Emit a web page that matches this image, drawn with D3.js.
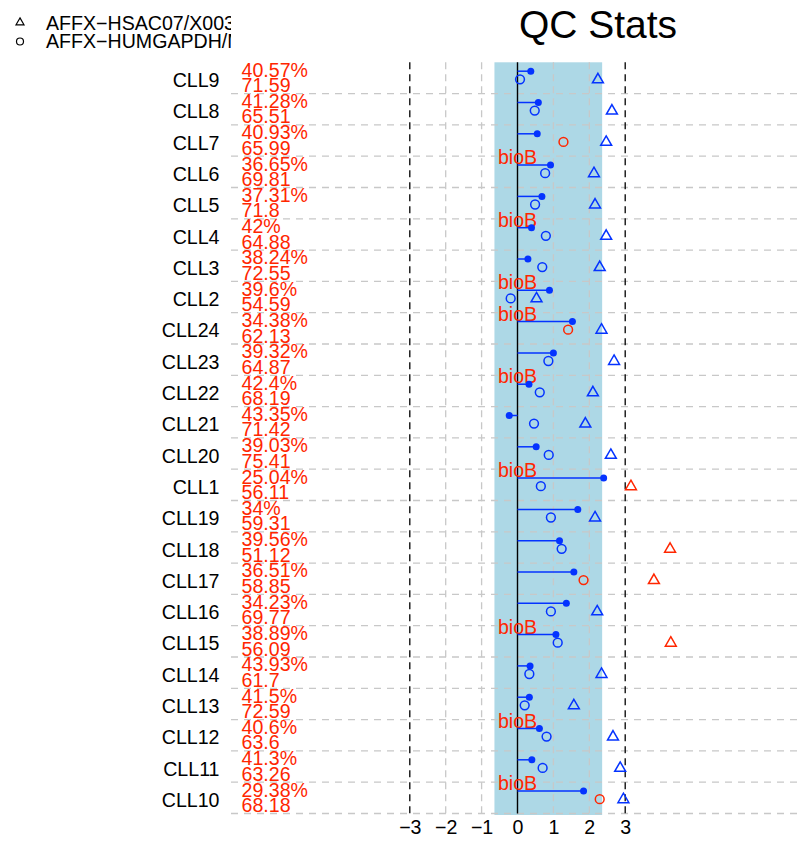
<!DOCTYPE html>
<html>
<head>
<meta charset="utf-8">
<script src="https://cdn.jsdelivr.net/npm/d3@7"></script>
<style>
  body { margin: 0; background: #fff; }
  svg { display: block; }
  text { font-family: "Liberation Sans", Arial, Helvetica, sans-serif; }
</style>
</head>
<body>
<svg id="chart" width="801" height="842"></svg>
<script>
// Arrays, listed top row first
const arrays = ["CLL9", "CLL8", "CLL7", "CLL6", "CLL5", "CLL4", "CLL3", "CLL2",
  "CLL24", "CLL23", "CLL22", "CLL21", "CLL20", "CLL1", "CLL19", "CLL18",
  "CLL17", "CLL16", "CLL15", "CLL14", "CLL13", "CLL12", "CLL11", "CLL10"];

// Percent present calls
const percentPresent = [40.57, 41.28, 40.93, 36.65, 37.31, 42, 38.24, 39.6,
  34.38, 39.32, 42.4, 43.35, 39.03, 25.04, 34, 39.56,
  36.51, 34.23, 38.89, 43.93, 41.5, 40.6, 41.3, 29.38];

// Average background
const background = [71.59, 65.51, 65.99, 69.81, 71.8, 64.88, 72.55, 54.59,
  62.13, 64.87, 68.19, 71.42, 75.41, 56.11, 59.31, 51.12,
  58.85, 69.77, 56.09, 61.7, 72.59, 63.6, 63.26, 68.18];

// log2 scale factors
const scaleFactor = [0.37, 0.58, 0.55, 0.92, 0.68, 0.39, 0.29, 0.89,
  1.53, 1.00, 0.32, -0.23, 0.52, 2.40, 1.68, 1.17,
  1.57, 1.36, 1.07, 0.35, 0.33, 0.61, 0.40, 1.84];

// GAPDH 3'/5' ratios (circles)
const gapdhRatio = [0.07, 0.48, 1.28, 0.77, 0.49, 0.79, 0.69, -0.19,
  1.41, 0.86, 0.62, 0.46, 0.87, 0.65, 0.93, 1.23,
  1.84, 0.93, 1.12, 0.33, 0.20, 0.81, 0.70, 2.29];

// beta-actin 3'/5' ratios (triangles)
const actinRatio = [2.24, 2.63, 2.47, 2.13, 2.16, 2.47, 2.29, 0.53,
  2.34, 2.69, 2.10, 1.89, 2.60, 3.16, 2.16, 4.25,
  3.80, 2.22, 4.27, 2.34, 1.57, 2.66, 2.86, 2.95];

// bioB spike called present?
const bioBPresent = [true, true, true, false, true, false, true, false,
  false, true, false, true, true, false, true, true,
  true, true, false, true, true, false, true, false];

const legendLabels = ["AFFX\u2212HSAC07/X00351", "AFFX\u2212HUMGAPDH/M33197"];
const xTicks = [-3, -2, -1, 0, 1, 2, 3];

// thresholds
const sfThresh = 3.0, gdhThresh = 1.25, baThresh = 3.0;

const RED = "#ff2600", BLUE = "#0433ff", OKREGION = "#add8e6", GREY = "#c8c8c8";
const FS = 19.6;

const svg = d3.select("#chart");
const x = d3.scaleLinear().domain([-3, 3]).range([409.8, 625.2]);
const y = d3.scaleBand().domain(arrays).range([62.3, 813.5]);
const bw = y.bandwidth();
const yTop = y.range()[0], yBottom = y.range()[1];

// acceptable scale-factor region around the mean
const meanSf = d3.mean(scaleFactor);
const sfLo = meanSf - sfThresh / 2, sfHi = meanSf + sfThresh / 2;
svg.append("rect")
  .attr("x", x(sfLo)).attr("width", x(sfHi) - x(sfLo))
  .attr("y", yTop).attr("height", yBottom - yTop + 1.5)
  .attr("fill", OKREGION);

// row separators
svg.append("g").selectAll("line").data(arrays).join("line")
  .attr("x1", 231).attr("x2", 801)
  .attr("y1", d => y(d) + bw).attr("y2", d => y(d) + bw)
  .attr("stroke", GREY).attr("stroke-width", 1.3)
  .attr("stroke-dasharray", "7,6");

// fold-change guides
const guides = [-3, -2, -1, 1, 2, 3];
svg.append("g").selectAll("line").data(guides).join("line")
  .attr("x1", d => x(d)).attr("x2", d => x(d))
  .attr("y1", yTop).attr("y2", yBottom + 2)
  .attr("stroke", d => Math.abs(d) === 3 ? "#000" : GREY)
  .attr("stroke-width", 1.3)
  .attr("stroke-dasharray", "7,5");

svg.append("line")
  .attr("x1", x(0)).attr("x2", x(0))
  .attr("y1", yTop).attr("y2", yBottom)
  .attr("stroke", "#000").attr("stroke-width", 1.4);

// array names
svg.append("g").selectAll("text").data(arrays).join("text")
  .attr("x", 219.5).attr("y", d => y(d) + 24.7)
  .attr("text-anchor", "end").attr("font-size", FS).attr("fill", "#000")
  .text(d => d);

// % present and background
const info = svg.append("g").attr("fill", RED).attr("font-size", FS);
info.selectAll("text.pp").data(arrays).join("text").attr("class", "pp")
  .attr("x", 241.5).attr("y", d => y(d) + 14.3)
  .text((d, i) => `${percentPresent[i]}%`);
info.selectAll("text.bg").data(arrays).join("text").attr("class", "bg")
  .attr("x", 241.5).attr("y", d => y(d) + 29.8)
  .text((d, i) => `${background[i]}`);

// bioB warnings
svg.append("g").selectAll("text").data(arrays.filter((d, i) => !bioBPresent[i])).join("text")
  .attr("x", x(0)).attr("y", d => y(d) + 7.9)
  .attr("text-anchor", "middle").attr("font-size", FS).attr("fill", RED)
  .text("bioB");

const sfSpread = d3.max(scaleFactor) - d3.min(scaleFactor);
const sfColor = sfSpread > sfThresh ? RED : BLUE;

// scale factor stems and dots
const rows = arrays.map((a, i) => ({ a, i }));
svg.append("g").selectAll("line").data(rows).join("line")
  .attr("x1", x(0)).attr("x2", d => x(scaleFactor[d.i]))
  .attr("y1", d => y(d.a) + 8.9).attr("y2", d => y(d.a) + 8.9)
  .attr("stroke", sfColor).attr("stroke-width", 1.5);
svg.append("g").selectAll("circle").data(rows).join("circle")
  .attr("cx", d => x(scaleFactor[d.i])).attr("cy", d => y(d.a) + 8.9)
  .attr("r", 3.5).attr("fill", sfColor);

// GAPDH circles
svg.append("g").selectAll("circle").data(rows).join("circle")
  .attr("cx", d => x(gapdhRatio[d.i])).attr("cy", d => y(d.a) + 17)
  .attr("r", 4.4).attr("fill", "none").attr("stroke-width", 1.5)
  .attr("stroke", d => gapdhRatio[d.i] > gdhThresh ? RED : BLUE);

// actin triangles
const tri = (r) => {
  const h = r * Math.sqrt(3) / 2;
  return `M0,${-r}L${h},${r / 2}L${-h},${r / 2}Z`;
};
svg.append("g").selectAll("path").data(rows).join("path")
  .attr("transform", d => `translate(${x(actinRatio[d.i])},${y(d.a) + 17.3})`)
  .attr("d", tri(6.3)).attr("fill", "none").attr("stroke-width", 1.5)
  .attr("stroke-linejoin", "miter")
  .attr("stroke", d => actinRatio[d.i] > baThresh ? RED : BLUE);

// x axis labels
const axis = svg.append("g").attr("transform", `translate(0,${yBottom + 3.2})`)
  .call(d3.axisBottom(x).tickValues(xTicks).tickSize(0).tickPadding(3)
    .tickFormat(d3.format("d")));
axis.select(".domain").remove();
axis.selectAll("text").attr("font-size", FS).attr("fill", "#000")
  .attr("font-family", "\"Liberation Sans\", Arial, sans-serif");

// title
svg.append("text").attr("x", 598).attr("y", 37.5)
  .attr("text-anchor", "middle").attr("font-size", 39).attr("fill", "#000")
  .text("QC Stats");

// legend, clipped to the left margin
svg.append("defs").append("clipPath").attr("id", "legend-clip")
  .append("rect").attr("x", 0).attr("y", 0).attr("width", 231).attr("height", 60);
const legend = svg.append("g").attr("clip-path", "url(#legend-clip)");
legend.append("path").attr("transform", "translate(20,22.5)")
  .attr("d", tri(4.6)).attr("fill", "none").attr("stroke", "#000").attr("stroke-width", 1.2);
legend.append("circle").attr("cx", 20).attr("cy", 41.5).attr("r", 3.5)
  .attr("fill", "none").attr("stroke", "#000").attr("stroke-width", 1.2);
legend.selectAll("text").data(legendLabels).join("text")
  .attr("x", 46).attr("y", (d, i) => 29.5 + i * 18.5)
  .attr("font-size", FS).attr("fill", "#000")
  .text(d => d);
</script>
</body>
</html>
